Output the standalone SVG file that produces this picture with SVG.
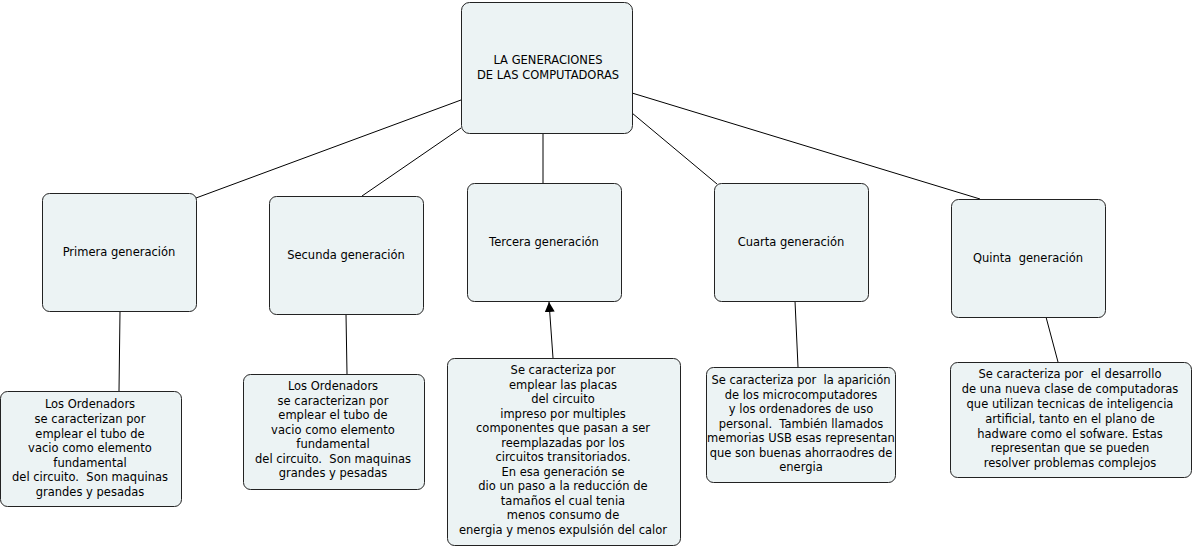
<svg xmlns="http://www.w3.org/2000/svg" width="1194" height="548" viewBox="0 0 1194 548">
<style>
.box{fill:#ecf3f4;stroke:#222;stroke-width:1}
text{font-family:"DejaVu Sans",Verdana,sans-serif;font-size:11.5px;fill:#000;text-anchor:middle}
.c line{stroke:#000;stroke-width:1}
</style>
<defs>
<marker id="arr" viewBox="0 0 10 10" refX="10" refY="5" markerWidth="10" markerHeight="10" markerUnits="userSpaceOnUse" orient="auto">
<path d="M0,0 L10,5 L0,10 z" fill="#000"/>
</marker>
</defs>
<rect width="1194" height="548" fill="#fff"/>
<g class="c" id="connectors">
<line x1="461" y1="100" x2="196" y2="198"/>
<line x1="461" y1="128" x2="362" y2="196"/>
<line x1="543" y1="134" x2="543" y2="183"/>
<line x1="632" y1="113" x2="717" y2="184"/>
<line x1="632" y1="93" x2="980" y2="199"/>
<line x1="120" y1="311" x2="119" y2="391"/>
<line x1="346" y1="314" x2="347" y2="374"/>
<line x1="553" y1="358" x2="549" y2="302" marker-end="url(#arr)"/>
<line x1="795" y1="301" x2="798" y2="367"/>
<line x1="1046" y1="317" x2="1058" y2="362"/>
</g>
<g id="root">
<rect class="box" x="461.5" y="2.5" width="171" height="131" rx="8"/>
<text x="548" y="64">LA GENERACIONES</text>
<text x="548" y="79">DE LAS COMPUTADORAS</text>
</g>
<g id="primera">
<rect class="box" x="42.5" y="193.5" width="154" height="118" rx="7"/>
<text x="119" y="256">Primera generación</text>
</g>
<g id="secunda">
<rect class="box" x="269.5" y="196.5" width="154" height="118" rx="7"/>
<text x="346" y="259">Secunda generación</text>
</g>
<g id="tercera">
<rect class="box" x="467.5" y="183.5" width="154" height="118" rx="7"/>
<text x="544" y="246">Tercera generación</text>
</g>
<g id="cuarta">
<rect class="box" x="714.5" y="183.5" width="154" height="118" rx="7"/>
<text x="791" y="246">Cuarta generación</text>
</g>
<g id="quinta">
<rect class="box" x="951.5" y="199.5" width="154" height="118" rx="7"/>
<text x="1028" y="262" xml:space="preserve">Quinta  generación</text>
</g>
<g id="desc1">
<rect class="box" x="0.5" y="391.5" width="181" height="115" rx="7"/>
<text x="90" y="408">Los Ordenadors</text>
<text x="90" y="423">se caracterizan por</text>
<text x="90" y="437.5">emplear el tubo de</text>
<text x="90" y="452">vacio como elemento</text>
<text x="90" y="466.5">fundamental</text>
<text x="90" y="481" xml:space="preserve">del circuito.  Son maquinas</text>
<text x="90" y="495.5">grandes y pesadas</text>
</g>
<g id="desc2">
<rect class="box" x="243.5" y="374.5" width="181" height="115" rx="7"/>
<text x="333" y="390">Los Ordenadors</text>
<text x="333" y="405">se caracterizan por</text>
<text x="333" y="419">emplear el tubo de</text>
<text x="333" y="434">vacio como elemento</text>
<text x="333" y="448">fundamental</text>
<text x="333" y="462.5" xml:space="preserve">del circuito.  Son maquinas</text>
<text x="333" y="477">grandes y pesadas</text>
</g>
<g id="desc3">
<rect class="box" x="447.5" y="358.5" width="233" height="187" rx="7"/>
<text x="563" y="374">Se caracteriza por</text>
<text x="563" y="389">emplear las placas</text>
<text x="563" y="403">del circuito</text>
<text x="563" y="418">impreso por multiples</text>
<text x="563" y="432">componentes que pasan a ser</text>
<text x="563" y="447">reemplazadas por los</text>
<text x="563" y="461">circuitos transitoriados.</text>
<text x="563" y="476">En esa generación se</text>
<text x="563" y="490">dio un paso a la reducción de</text>
<text x="563" y="505">tamaños el cual tenia</text>
<text x="563" y="519">menos consumo de</text>
<text x="563" y="534">energia y menos expulsión del calor</text>
</g>
<g id="desc4">
<rect class="box" x="706.5" y="367.5" width="189" height="115" rx="7"/>
<text x="801" y="384" xml:space="preserve">Se caracteriza por  la aparición</text>
<text x="801" y="399">de los microcomputadores</text>
<text x="801" y="413">y los ordenadores de uso</text>
<text x="801" y="427.5" xml:space="preserve">personal.  También llamados</text>
<text x="801" y="442">memorias USB esas representan</text>
<text x="801" y="457">que son buenas ahorraodres de</text>
<text x="801" y="471">energia</text>
</g>
<g id="desc5">
<rect class="box" x="950.5" y="362.5" width="241" height="115" rx="7"/>
<text x="1070" y="378" xml:space="preserve">Se caracteriza por  el desarrollo</text>
<text x="1070" y="393">de una nueva clase de computadoras</text>
<text x="1070" y="408">que utilizan tecnicas de inteligencia</text>
<text x="1070" y="423">artificial, tanto en el plano de</text>
<text x="1070" y="438">hadware como el sofware. Estas</text>
<text x="1070" y="452">representan que se pueden</text>
<text x="1070" y="467">resolver problemas complejos</text>
</g>
</svg>
